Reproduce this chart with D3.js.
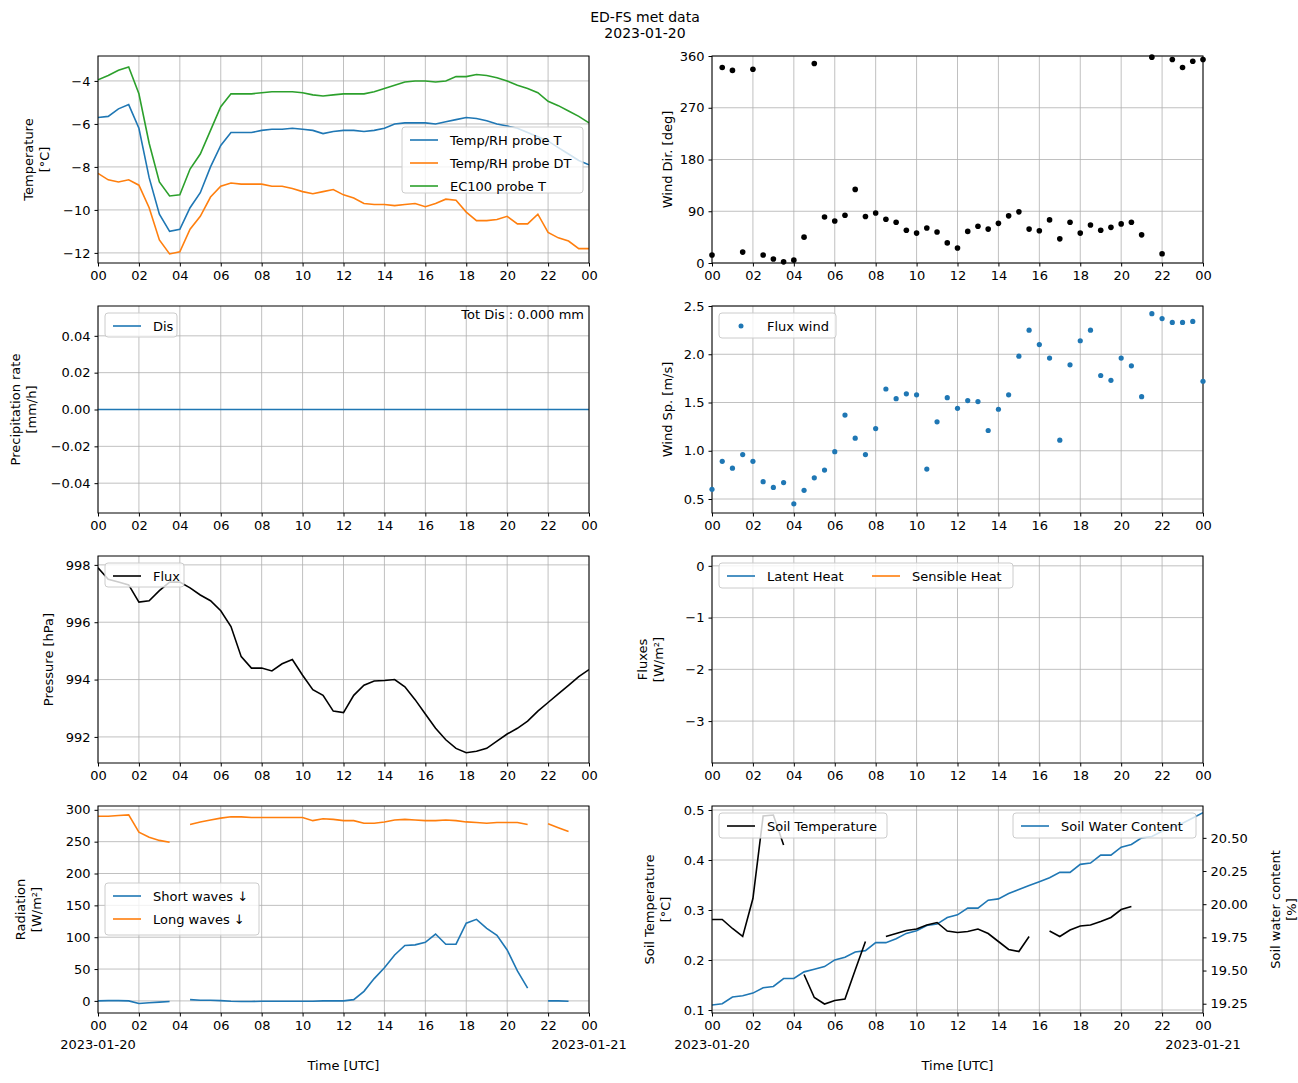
<!DOCTYPE html>
<html><head><meta charset="utf-8">
<script src="https://cdn.jsdelivr.net/npm/d3@7"></script>
<style>body{margin:0;background:#fff}text{font-family:"DejaVu Sans",sans-serif}</style>
</head><body><svg id="c" width="1298" height="1083"></svg>
<script>
const hours = d3.range(0, 24.01, 0.5);
const xTicks = d3.range(0, 25, 2);
const tempT = [-5.7,-5.65,-5.3,-5.1,-6.2,-8.5,-10.2,-11,-10.9,-9.9,-9.2,-8,-7,-6.4,-6.4,-6.4,-6.3,-6.25,-6.25,-6.2,-6.25,-6.3,-6.45,-6.35,-6.3,-6.3,-6.35,-6.3,-6.2,-6,-5.95,-5.95,-5.95,-6,-5.9,-5.8,-5.7,-5.75,-5.85,-6,-6.1,-6.2,-6.4,-6.6,-6.8,-7.1,-7.4,-7.7,-7.9];
const tempDT = [-8.3,-8.6,-8.7,-8.6,-8.85,-9.9,-11.4,-12.05,-11.95,-10.9,-10.3,-9.4,-8.9,-8.75,-8.8,-8.8,-8.8,-8.9,-8.9,-9,-9.15,-9.25,-9.15,-9.05,-9.3,-9.45,-9.7,-9.75,-9.75,-9.8,-9.75,-9.7,-9.85,-9.7,-9.5,-9.55,-10.1,-10.5,-10.5,-10.45,-10.3,-10.65,-10.65,-10.2,-11.05,-11.3,-11.45,-11.8,-11.8];
const ec100T = [-3.95,-3.75,-3.5,-3.35,-4.6,-6.9,-8.7,-9.35,-9.3,-8.1,-7.4,-6.3,-5.2,-4.6,-4.6,-4.6,-4.55,-4.5,-4.5,-4.5,-4.55,-4.65,-4.7,-4.65,-4.6,-4.6,-4.6,-4.5,-4.35,-4.2,-4.05,-4,-4,-4.05,-4,-3.8,-3.8,-3.7,-3.75,-3.85,-4,-4.2,-4.35,-4.55,-4.95,-5.15,-5.4,-5.65,-5.95];
const windDir = [14,340,335,19,337,14,7,2,5,45,347,80,73,83,128,81,87,76,71,57,52,61,54,35,26,55,64,59,69,82,89,59,56,75,42,71,52,66,57,62,68,71,49,358,16,354,340,351,354];
const windSp = [0.6,0.89,0.82,0.96,0.89,0.68,0.62,0.67,0.45,0.59,0.72,0.8,0.99,1.37,1.13,0.96,1.23,1.64,1.54,1.59,1.58,0.81,1.3,1.55,1.44,1.52,1.51,1.21,1.43,1.58,1.98,2.25,2.1,1.96,1.11,1.89,2.14,2.25,1.78,1.73,1.96,1.88,1.56,2.42,2.37,2.33,2.33,2.34,1.72];
const precip = hours.map(() => 0);
const pressure = [997.9,997.5,997.4,997.3,996.7,996.75,997.1,997.4,997.4,997.2,996.95,996.75,996.4,995.85,994.8,994.4,994.4,994.3,994.55,994.7,994.15,993.65,993.45,992.9,992.85,993.45,993.8,993.95,993.97,994,993.75,993.3,992.8,992.3,991.9,991.6,991.45,991.5,991.6,991.85,992.1,992.3,992.55,992.9,993.2,993.5,993.8,994.1,994.35];
const shortW = [0,0.5,0.5,0,-4,-3,-2,-1,null,2,1,1,0.5,-0.5,-1,-1,-0.5,-0.5,-0.5,-0.5,-0.5,-0.5,0,0,0,2,15,35,52,72,87,88,92,105,89,89,122,128,114,103,80,47,20,null,0,0,-0.5,null,null];
const longW = [290,290,291,292,265,257,252,249,null,277,281,284,287,289,289,288,288,288,288,288,288,283,286,285,283,283,279,279,281,284,285,284,283,283,284,283,281,280,279,280,280,280,277,null,278,272,266,null,null];
const soilT = [0.281,0.281,0.263,0.247,0.323,0.488,0.49,0.43,null,0.171,0.125,0.112,0.119,0.122,0.18,0.237,null,0.247,0.253,0.259,0.262,0.27,0.275,0.258,0.255,0.257,0.262,0.253,0.237,0.221,0.217,0.247,null,0.258,0.247,0.26,0.268,0.27,0.277,0.285,0.301,0.307,null,null,null,null,null,null,null];
const soilW = [19.24,19.25,19.30,19.31,19.33,19.37,19.38,19.44,19.44,19.49,19.51,19.53,19.58,19.60,19.64,19.65,19.71,19.71,19.74,19.78,19.80,19.84,19.85,19.90,19.92,19.97,19.97,20.03,20.04,20.08,20.11,20.14,20.17,20.20,20.24,20.24,20.30,20.31,20.37,20.37,20.43,20.45,20.50,20.51,20.55,20.58,20.61,20.65,20.69];

const C = {blue:"#1f77b4", orange:"#ff7f0e", green:"#2ca02c"};
const svg = d3.select("#c");
const fs = "13px";
svg.append("text").attr("x",645).attr("y",22).attr("text-anchor","middle").style("font-size","14px").text("ED-FS met data");
svg.append("text").attr("x",645).attr("y",38).attr("text-anchor","middle").style("font-size","14px").text("2023-01-20");

const cols = [98, 712], W = 491, H = 207, rows = [56, 306, 556, 806];
const fmt = d => String(d).replace("-", "\u2212");

function panel(col,row,dom,ticks,tfmt,ylabel,opts={}){
  const x0=cols[col], y0=rows[row];
  const g=svg.append("g").attr("transform",`translate(${x0},${y0})`);
  const x=d3.scaleLinear().domain([0,24]).range([0,W]);
  const y=d3.scaleLinear().domain(dom).range([H,0]);
  // grid
  g.selectAll(".gx").data(xTicks).join("line").attr("x1",d=>x(d)).attr("x2",d=>x(d)).attr("y1",0).attr("y2",H).attr("stroke","#b0b0b0").attr("stroke-width",0.8);
  g.selectAll(".gy").data(ticks).join("line").attr("x1",0).attr("x2",W).attr("y1",d=>y(d)).attr("y2",d=>y(d)).attr("stroke","#b0b0b0").attr("stroke-width",0.8);
  const xa=g.append("g").attr("transform",`translate(0,${H})`).call(d3.axisBottom(x).tickValues(xTicks).tickSize(3.5).tickPadding(4).tickFormat(d=>String(d%24).padStart(2,"0")));
  const ya=g.append("g").call(d3.axisLeft(y).tickValues(ticks).tickSize(3.5).tickPadding(4).tickFormat(tfmt));
  [xa,ya].forEach(a=>{a.selectAll("text").style("font-size",fs).attr("fill","#000");a.select(".domain").remove();});
  const lbl=svg.append("text").attr("transform",`translate(${x0-(opts.lx||60)},${y0+H/2}) rotate(-90)`).attr("text-anchor","middle").style("font-size",fs);
  const ls=ylabel.split("\n");
  ls.forEach((t,i)=>lbl.append("tspan").attr("x",0).attr("dy",i===0?(ls.length>1?"-0.2em":"0.35em"):"1.2em").text(t));
  const clip="clip"+col+row;
  svg.append("clipPath").attr("id",clip).append("rect").attr("width",W).attr("height",H);
  const pg=g.append("g").attr("clip-path",`url(#${clip})`);
  g.append("rect").attr("width",W).attr("height",H).attr("fill","none").attr("stroke","#000").attr("stroke-width",1);
  return {g,pg,x,y};
}
function line(p,vals,color,y){
  const yy=y||p.y;
  p.pg.append("path").datum(vals.map((v,i)=>[hours[i],v])).attr("fill","none").attr("stroke",color).attr("stroke-width",1.6)
   .attr("d",d3.line().defined(d=>d[1]!==null).x(d=>p.x(d[0])).y(d=>yy(d[1])));
}
function dots(p,vals,color,r){
  p.g.selectAll(null).data(vals.map((v,i)=>[hours[i],v])).join("circle").attr("cx",d=>p.x(d[0])).attr("cy",d=>p.y(d[1])).attr("r",r).attr("fill",color);
}
function legend(p,x,y,w,items,opts={}){
  const h=opts.h||(items.length*23+4);
  p.g.append("rect").attr("x",x).attr("y",y).attr("width",w).attr("height",h).attr("rx",3).attr("fill","#fff").attr("fill-opacity",0.8).attr("stroke","#ccc");
  items.forEach((it,i)=>{
    const ix=x+8+(opts.colw?opts.colw*i:0), iy=y+13+(opts.colw?0:i*23);
    if(it.dot) p.g.append("circle").attr("cx",ix+14).attr("cy",iy).attr("r",2.5).attr("fill",it.c);
    else p.g.append("line").attr("x1",ix).attr("x2",ix+28).attr("y1",iy).attr("y2",iy).attr("stroke",it.c).attr("stroke-width",1.6);
    p.g.append("text").attr("x",ix+40).attr("y",iy+5).style("font-size",fs).text(it.t);
  });
}

// Row 1
let p=panel(0,0,[-12.47,-2.84],[-12,-10,-8,-6,-4],fmt,"Temperature\n[°C]",{lx:62});
line(p,tempT,C.blue);line(p,tempDT,C.orange);line(p,ec100T,C.green);
legend(p,304,71,181,[{t:"Temp/RH probe T",c:C.blue},{t:"Temp/RH probe DT",c:C.orange},{t:"EC100 probe T",c:C.green}],{h:66});

p=panel(1,0,[0,360],[0,90,180,270,360],d=>d,"Wind Dir. [deg]",{lx:45});
dots(p,windDir,"#000",2.8);

// Row 2
p=panel(0,1,[-0.0562,0.0562],[-0.04,-0.02,0,0.02,0.04],d=>fmt(d.toFixed(2)),"Precipitation rate\n[mm/h]",{lx:75});
line(p,precip,C.blue);
legend(p,7,7,72,[{t:"Dis",c:C.blue}],{h:24});
p.g.append("text").attr("x",W-5).attr("y",13).attr("text-anchor","end").style("font-size",fs).text("Tot Dis : 0.000 mm");

p=panel(1,1,[0.355,2.5],[0.5,1.0,1.5,2.0,2.5],d=>d.toFixed(1),"Wind Sp. [m/s]",{lx:45});
dots(p,windSp,C.blue,2.6);
legend(p,7,7,117,[{t:"Flux wind",c:C.blue,dot:true}],{h:25});

// Row 3
p=panel(0,2,[991.09,998.31],[992,994,996,998],d=>d,"Pressure [hPa]",{lx:50});
line(p,pressure,"#000");
legend(p,7,7,79,[{t:"Flux",c:"#000"}],{h:24});

p=panel(1,2,[-3.81,0.19],[-3,-2,-1,0],fmt,"Fluxes\n[W/m²]",{lx:62});
legend(p,7,7,294,[{t:"Latent Heat",c:C.blue},{t:"Sensible Heat",c:C.orange}],{h:25,colw:145});

// Row 4
p=panel(0,3,[-19,306],[0,50,100,150,200,250,300],d=>d,"Radiation\n[W/m²]",{lx:70});
line(p,shortW,C.blue);line(p,longW,C.orange);
legend(p,7,77,154,[{t:"Short waves \u2193",c:C.blue},{t:"Long waves \u2193",c:C.orange}],{h:52});
p.g.append("text").attr("x",0).attr("y",H+36).attr("text-anchor","middle").style("font-size",fs).text("2023-01-20");
p.g.append("text").attr("x",W).attr("y",H+36).attr("text-anchor","middle").style("font-size",fs).text("2023-01-21");
p.g.append("text").attr("x",W/2).attr("y",H+57).attr("text-anchor","middle").style("font-size",fs).text("Time [UTC]");

p=panel(1,3,[0.094,0.508],[0.1,0.2,0.3,0.4,0.5],d=>d.toFixed(1),"Soil Temperature\n[°C]",{lx:55});
const y2=d3.scaleLinear().domain([19.18,20.74]).range([H,0]);
line(p,soilW,C.blue,y2);
line(p,soilT,"#000");
const ra=p.g.append("g").attr("transform",`translate(${W},0)`).call(d3.axisRight(y2).tickValues([19.25,19.5,19.75,20.0,20.25,20.5]).tickSize(3.5).tickPadding(4).tickFormat(d=>d.toFixed(2)));
ra.select(".domain").remove();ra.selectAll("text").style("font-size",fs);
const rl=svg.append("text").attr("transform",`translate(${712+W+80},${806+H/2}) rotate(-90)`).attr("text-anchor","middle").style("font-size",fs);
rl.append("tspan").attr("x",0).attr("dy","-0.2em").text("Soil water content");
rl.append("tspan").attr("x",0).attr("dy","1.2em").text("[%]");
legend(p,7,7,168,[{t:"Soil Temperature",c:"#000"}],{h:25});
legend(p,301,7,183,[{t:"Soil Water Content",c:C.blue}],{h:25});
p.g.append("text").attr("x",0).attr("y",H+36).attr("text-anchor","middle").style("font-size",fs).text("2023-01-20");
p.g.append("text").attr("x",W).attr("y",H+36).attr("text-anchor","middle").style("font-size",fs).text("2023-01-21");
p.g.append("text").attr("x",W/2).attr("y",H+57).attr("text-anchor","middle").style("font-size",fs).text("Time [UTC]");
</script></body></html>
